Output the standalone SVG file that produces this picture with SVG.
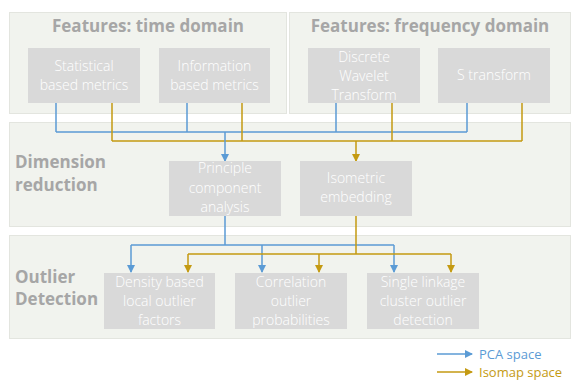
<svg xmlns="http://www.w3.org/2000/svg" width="573" height="383" viewBox="0 0 573 383">
<style>
.panel{fill:#f1f3ee;stroke:#e3e5df;stroke-width:1}
.box{fill:#d9d9d9}
.bt{font-family:"Open Sans","Noto Sans",sans-serif;font-size:14px;font-weight:300;fill:#ffffff;text-anchor:middle}
.title{font-family:"Open Sans","Noto Sans",sans-serif;font-size:17px;font-weight:bold;fill:#a6a6a6}
.b{stroke:#5b9bd5;stroke-width:1.5;fill:none}
.g{stroke:#c49a12;stroke-width:1.5;fill:none}
.lg{font-family:"Open Sans","Noto Sans",sans-serif;font-size:13px}
</style>
<defs>
<marker id="ab" markerWidth="8" markerHeight="8" refX="7" refY="4" orient="auto" markerUnits="userSpaceOnUse"><path d="M0,0L8,4L0,8z" fill="#5b9bd5"/></marker>
<marker id="ag" markerWidth="8" markerHeight="8" refX="7" refY="4" orient="auto" markerUnits="userSpaceOnUse"><path d="M0,0L8,4L0,8z" fill="#c49a12"/></marker>
</defs>
<rect width="573" height="383" fill="#ffffff"/>
<g id="panel-time">
<rect class="panel" x="9.5" y="12.5" width="277" height="101"/>
<text class="title" x="148" y="32" text-anchor="middle">Features: time domain</text>
</g>
<g id="panel-freq">
<rect class="panel" x="289.5" y="12.5" width="281" height="101"/>
<text class="title" x="430" y="32" text-anchor="middle">Features: frequency domain</text>
</g>
<g id="panel-dim">
<rect class="panel" x="9.5" y="122.5" width="561" height="104"/>
<text class="title" x="15" y="168">Dimension</text>
<text class="title" x="15" y="191">reduction</text>
</g>
<g id="panel-outlier">
<rect class="panel" x="9.5" y="235.5" width="561" height="103"/>
<text class="title" x="15" y="283">Outlier</text>
<text class="title" x="15" y="305">Detection</text>
</g>
<g id="connectors">
<path class="b" d="M56,103V132M187,103V132M336,103V132M467,103V132M56,132H467"/>
<path class="g" d="M112,103V141M242,103V141M392,103V141M522,103V141M112,141H522"/>
<path class="b" d="M225,132V161" marker-end="url(#ab)"/>
<path class="g" d="M356,141V161" marker-end="url(#ag)"/>
<path class="b" d="M225,216V245M131,245H394"/>
<path class="b" d="M131,245V272" marker-end="url(#ab)"/>
<path class="b" d="M262,245V272" marker-end="url(#ab)"/>
<path class="b" d="M394,245V272" marker-end="url(#ab)"/>
<path class="g" d="M356,216V254M188,254H451"/>
<path class="g" d="M188,254V272" marker-end="url(#ag)"/>
<path class="g" d="M319,254V272" marker-end="url(#ag)"/>
<path class="g" d="M451,254V272" marker-end="url(#ag)"/>
</g>
<g id="n-stat"><rect class="box" x="28" y="48" width="112" height="55"/><text class="bt" x="84" y="71">Statistical</text><text class="bt" x="84" y="90">based metrics</text></g>
<g id="n-info"><rect class="box" x="159" y="48" width="111" height="55"/><text class="bt" x="214.5" y="71">Information</text><text class="bt" x="214.5" y="90">based metrics</text></g>
<g id="n-dwt"><rect class="box" x="308" y="48" width="112" height="55"/><text class="bt" x="364" y="62">Discrete</text><text class="bt" x="364" y="81">Wavelet</text><text class="bt" x="364" y="100">Transform</text></g>
<g id="n-st"><rect class="box" x="438" y="48" width="112" height="55"/><text class="bt" x="494" y="80">S transform</text></g>
<g id="n-pca"><rect class="box" x="169" y="161" width="112" height="55"/><text class="bt" x="225" y="173">Principle</text><text class="bt" x="225" y="193">component</text><text class="bt" x="225" y="212">analysis</text></g>
<g id="n-iso"><rect class="box" x="300" y="161" width="112" height="55"/><text class="bt" x="356" y="183">Isometric</text><text class="bt" x="356" y="202">embedding</text></g>
<g id="n-dens"><rect class="box" x="104" y="273" width="111" height="56"/><text class="bt" x="159.5" y="287">Density based</text><text class="bt" x="159.5" y="306">local outlier</text><text class="bt" x="159.5" y="325">factors</text></g>
<g id="n-corr"><rect class="box" x="235" y="273" width="112" height="56"/><text class="bt" x="291" y="287">Correlation</text><text class="bt" x="291" y="306">outlier</text><text class="bt" x="291" y="325">probabilities</text></g>
<g id="n-single"><rect class="box" x="367" y="273" width="112" height="56"/><text class="bt" x="423" y="287">Single linkage</text><text class="bt" x="423" y="306">cluster outlier</text><text class="bt" x="423" y="325">detection</text></g>
<g id="legend">
<path class="b" d="M437,354H472" marker-end="url(#ab)"/>
<path class="g" d="M437,372H472" marker-end="url(#ag)"/>
<text class="lg" x="479" y="359" fill="#5b9bd5">PCA space</text>
<text class="lg" x="479" y="377" fill="#c49a12">Isomap space</text>
</g>
</svg>
